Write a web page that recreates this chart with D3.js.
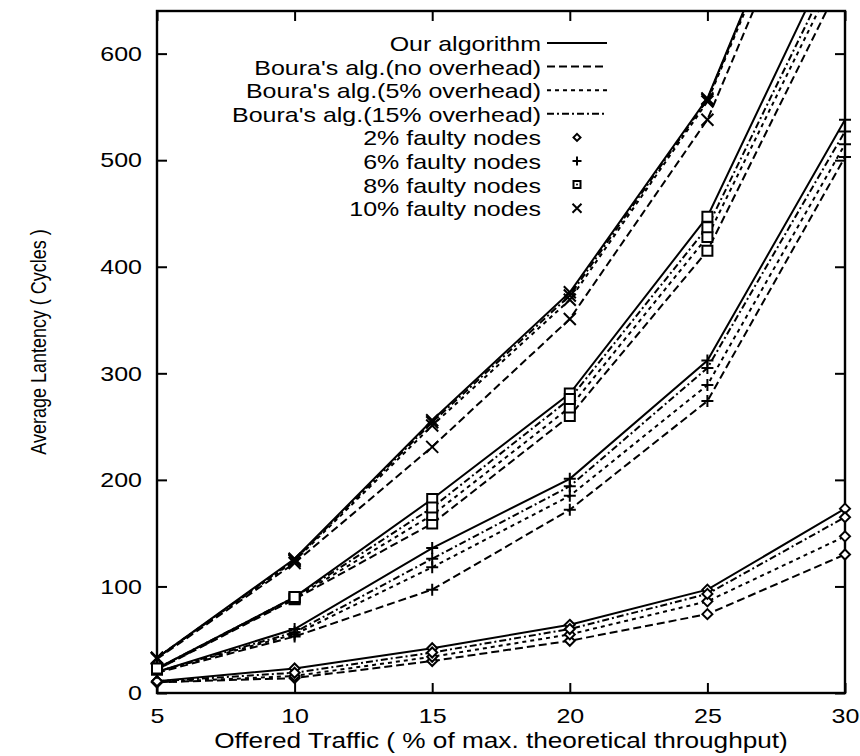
<!DOCTYPE html>
<html>
<head>
<meta charset="utf-8">
<script src="https://cdn.jsdelivr.net/npm/d3@7"></script>
<style>
body { margin: 0; background: #fff; }
text { font-family: 'Liberation Sans', Arial, sans-serif; fill: #000; }
</style>
</head>
<body>
<div id="chart"></div>
<script>
const traffic = [5, 10, 15, 20, 25, 30]
const yTicks = [0, 100, 200, 300, 400, 500, 600]
const algorithms = ["Our algorithm", "Boura's alg.(no overhead)", "Boura's alg.(5% overhead)", "Boura's alg.(15% overhead)"]
const faultLabels = ['2% faulty nodes', '6% faulty nodes', '8% faulty nodes', '10% faulty nodes']

// latency per algorithm (same order as algorithms), one value per traffic level
const faulty2 = [
	[11, 23, 42, 64, 97, 173],
	[10, 14, 30, 49, 74, 130],
	[10, 16, 34, 55, 86, 147],
	[11, 19, 38, 60, 93, 165]
]
const faulty6 = [
	[20, 60, 136, 201, 312, 538],
	[19, 53, 97, 172, 274, 503],
	[20, 55, 118, 185, 289, 515],
	[20, 57, 126, 194, 305, 527]
]
const faulty8 = [
	[23, 90, 182, 281, 447, 718],
	[22, 88, 159, 260, 415, 675],
	[22, 89, 167, 268, 428, 691],
	[23, 90, 174, 276, 437, 702]
]
const faulty10 = [
	[33, 126, 256, 376, 558, 870],
	[32, 122, 231, 351, 538, 844],
	[33, 124, 251, 369, 555, 865],
	[33, 125, 254, 373, 557, 868]
]
const groups = [faulty2, faulty6, faulty8, faulty10]

const dashes = [null, '8,4', '4,4', '7,3,2,3']
const sx = 1.19 // the scanned figure is stretched sideways

const margin = ({ top: 11, right: 15, bottom: 63, left: 157 })
const width = 860 - margin.left - margin.right
const height = 756 - margin.top - margin.bottom

const svg = d3.select('#chart')
	.append('svg')
	.attr('width', 860)
	.attr('height', 756)

const g = svg.append('g')
	.attr('transform', `translate(${margin.left},${margin.top})`)

const xScale = d3.scaleLinear()
	.domain([5, 30])
	.range([0, width])

const yScale = d3.scaleLinear()
	.domain([0, 640])
	.range([height, 0])

function stretch(sel) {
	sel.attr('transform', `scale(${sx},1)`)
}

// axes, ticks pointing inward
g.append('g')
	.attr('transform', `translate(0,${height})`)
	.call(d3.axisBottom(xScale).tickValues(traffic).tickSizeInner(-10).tickSizeOuter(0).tickPadding(15))
	.call(a => a.select('.domain').remove())
	.call(a => a.selectAll('text').attr('font-size', 21).attr('x', 0).call(stretch))
g.append('g')
	.call(d3.axisTop(xScale).tickValues(traffic).tickSizeInner(-10).tickSizeOuter(0).tickFormat(''))
	.call(a => a.select('.domain').remove())
g.append('g')
	.call(d3.axisLeft(yScale).tickValues(yTicks).tickSizeInner(-10).tickSizeOuter(0).tickPadding(15))
	.call(a => a.select('.domain').remove())
	.call(a => a.selectAll('text').attr('font-size', 21).attr('x', -15 / sx).call(stretch))
g.append('g')
	.attr('transform', `translate(${width},0)`)
	.call(d3.axisRight(yScale).tickValues(yTicks).tickSizeInner(-10).tickSizeOuter(0).tickFormat(''))
	.call(a => a.select('.domain').remove())

g.selectAll('.tick line').attr('stroke', '#000').attr('stroke-width', 2)

g.append('rect')
	.attr('width', width)
	.attr('height', height)
	.attr('fill', 'none')
	.attr('stroke', '#000')
	.attr('stroke-width', 2.4)

svg.append('text')
	.attr('transform', `translate(${margin.left + width / 2},748) scale(${sx},1)`)
	.attr('text-anchor', 'middle')
	.attr('font-size', 22)
	.text('Offered Traffic ( % of max. theoretical throughput)')

svg.append('text')
	.attr('transform', `translate(46,342) rotate(-90) scale(1,${sx})`)
	.attr('text-anchor', 'middle')
	.attr('font-size', 18)
	.text('Average Lantency ( Cycles )')

// markers
const markers = [
	r => `M0,${-r}L${r},0L0,${r}L${-r},0Z`,
	r => `M${-r},0H${r}M0,${-r}V${r}`,
	r => `M${-r},${-r}H${r}V${r}H${-r}Z`,
	r => `M${-r},${-r}L${r},${r}M${-r},${r}L${r},${-r}`
]
const markerSize = [5, 6, 5, 6]

g.append('clipPath')
	.attr('id', 'plot-clip')
	.append('rect')
	.attr('width', width)
	.attr('height', height)

const line = d3.line()
	.x((d, i) => xScale(traffic[i]))
	.y(d => yScale(d))

const plot = g.append('g').attr('clip-path', 'url(#plot-clip)')

groups.forEach((group, gi) => {
	group.forEach((vals, ai) => {
		plot.append('path')
			.datum(vals)
			.attr('fill', 'none')
			.attr('stroke', '#000')
			.attr('stroke-width', 2)
			.attr('stroke-dasharray', dashes[ai])
			.attr('d', line)
	})
})

groups.forEach((group, gi) => {
	group.forEach(vals => {
		g.append('g').selectAll('path')
			.data(vals.map((v, i) => [traffic[i], v]).filter(d => d[1] <= 640))
			.join('path')
			.attr('transform', d => `translate(${xScale(d[0])},${yScale(d[1])})`)
			.attr('d', markers[gi](markerSize[gi]))
			.attr('fill', gi === 0 || gi === 2 ? '#fff' : 'none')
			.attr('stroke', '#000')
			.attr('stroke-width', 2)
	})
})

// legend
const legend = svg.append('g')
const rowY = i => 51 + i * 23.6

algorithms.forEach((name, i) => {
	legend.append('text')
		.attr('transform', `translate(541,${rowY(i)}) scale(${sx},1)`)
		.attr('text-anchor', 'end')
		.attr('font-size', 21)
		.text(name)
	legend.append('line')
		.attr('x1', 547).attr('x2', 607)
		.attr('y1', rowY(i) - 8).attr('y2', rowY(i) - 8)
		.attr('stroke', '#000')
		.attr('stroke-width', 2)
		.attr('stroke-dasharray', dashes[i])
})

faultLabels.forEach((name, i) => {
	const row = i + algorithms.length
	legend.append('text')
		.attr('transform', `translate(541,${rowY(row)}) scale(${sx},1)`)
		.attr('text-anchor', 'end')
		.attr('font-size', 21)
		.text(name)
	legend.append('path')
		.attr('transform', `translate(577,${rowY(row) - 8})`)
		.attr('d', markers[i](markerSize[i] - 1.5))
		.attr('fill', 'none')
		.attr('stroke', '#000')
		.attr('stroke-width', 2)
	if (i === 2) {
		legend.append('circle')
			.attr('cx', 577).attr('cy', rowY(row) - 8)
			.attr('r', 1)
			.attr('fill', '#000')
	}
})
</script>
</body>
</html>
